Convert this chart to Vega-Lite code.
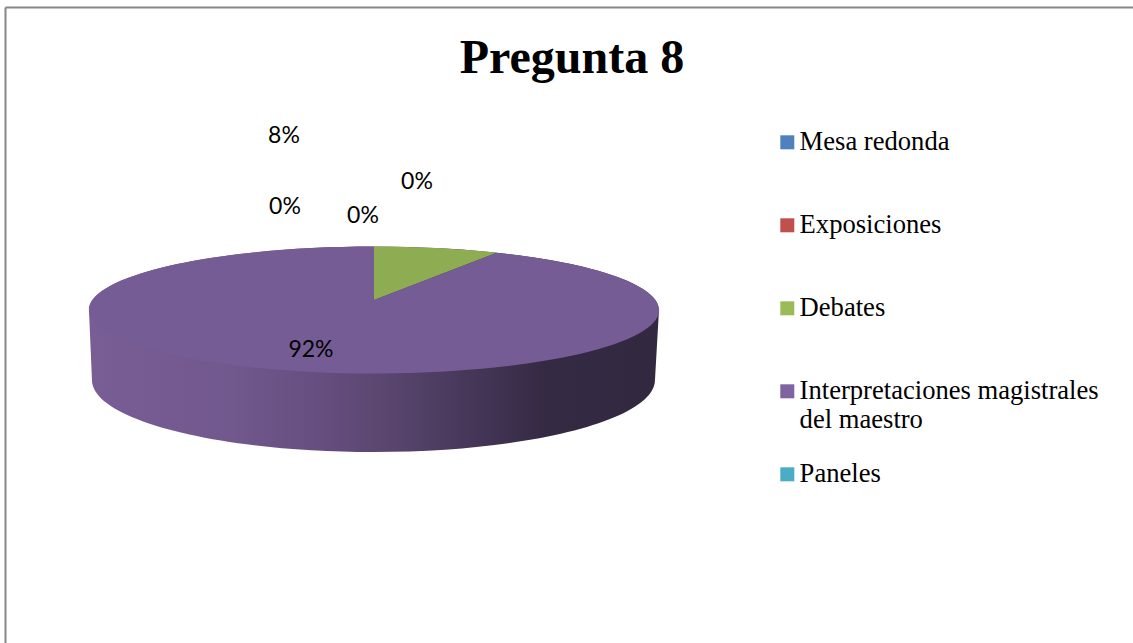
{
"$schema":"https://vega.github.io/schema/vega-lite/v6.json",
"width":1128,"height":636,
"autosize":"none",
"padding":{"left":5,"top":7,"right":0,"bottom":0},
"background":"white",
"config":{"view":{"stroke":null}},
"title":{"text":"Pregunta 8","font":"Liberation Serif","fontSize":48,"fontWeight":"bold","color":"black","anchor":"middle","offset":-76,"dx":3},
"data":{"values":[
{"serie":"Mesa redonda","porcion":"Mesa redonda","share":0},
{"serie":"Exposiciones","porcion":"Exposiciones","share":0},
{"serie":"Debates","porcion":"Debates","share":0.08},
{"serie":"Interpretaciones magistrales del maestro","porcion":"Interpretaciones","share":0.92},
{"serie":"Paneles","porcion":"Paneles","share":0}
]},
"encoding":{
"x":{"datum":0.3271,"type":"quantitative","scale":{"domain":[0,1]},"axis":{"orient":"top","domainColor":"#868686","domainWidth":2,"ticks":false,"labels":false,"grid":false,"title":null}},
"y":{"datum":0.4607,"type":"quantitative","scale":{"domain":[0,1],"reverse":true},"axis":{"orient":"left","domainColor":"#868686","domainWidth":2,"ticks":false,"labels":false,"grid":false,"title":null}}
},
"layer":[
{"transform":[{"filter":"datum.share>0.5"}],
 "mark":{"type":"point","filled":true,"size":4,"opacity":1,"shape":"M-285,10 L-282,80 A281.5 72 0 0 0 281,80 L285,10 A285 63.5 0 0 0 -285,10 Z",
 "color":{"gradient":"linear","x1":0,"y1":0,"x2":1,"y2":0,"stops":[{"offset":0,"color":"#795d95"},{"offset":0.25,"color":"#71588d"},{"offset":0.42,"color":"#654d7e"},{"offset":0.52,"color":"#5a466f"},{"offset":0.66,"color":"#47385a"},{"offset":0.8,"color":"#352a44"},{"offset":1,"color":"#32283f"}]}}},
{"mark":{"type":"point","filled":true,"size":4,"opacity":1},
 "encoding":{
  "color":{"field":"serie","type":"nominal","sort":null,"scale":{"domain":["Mesa redonda","Exposiciones","Debates","Interpretaciones magistrales del maestro","Paneles"],"range":["#4f81bd","#c0504d","#9bbb59","#8064a2","#4bacc6"]},
   "legend":{"title":null,"orient":"none","legendX":769,"legendY":122,"columns":1,"gridAlign":"all","symbolType":"square","symbolSize":196,"symbolStrokeWidth":0,"labelFont":"Liberation Serif","labelFontSize":26.6,"labelColor":"black","labelLimit":400,"labelOffset":-1,"rowPadding":27,
    "labelExpr":"datum.label=='Interpretaciones magistrales del maestro' ? ['Interpretaciones magistrales','del maestro'] : datum.label"}},
  "shape":{"field":"porcion","type":"nominal","sort":null,"legend":null,"scale":{"domain":["Mesa redonda","Exposiciones","Debates","Interpretaciones","Paneles"],"range":["M0,0","M0,0","M0,0 L0,-53.5 A285 63.5 0 0 1 123,-47.3 Z","M0,0 L123,-47.3 A285 63.5 0 1 1 0,-53.5 Z","M0,0"]}}
 }},
{"transform":[{"filter":"datum.share>0"}],
 "mark":{"type":"point","filled":true,"size":4,"color":"black","opacity":0.08},
 "encoding":{"shape":{"field":"porcion","type":"nominal","legend":null,"scale":{"domain":["Mesa redonda","Exposiciones","Debates","Interpretaciones","Paneles"],"range":["M0,0","M0,0","M0,0 L0,-53.5 A285 63.5 0 0 1 123,-47.3 Z","M0,0 L123,-47.3 A285 63.5 0 1 1 0,-53.5 Z","M0,0"]}}}},
{"transform":[{"filter":"datum.serie=='Debates'"}],"mark":{"type":"text","font":"Lato","fontSize":23,"color":"black","dx":-90,"dy":-164},"encoding":{"text":{"field":"share","format":".0%"}}},
{"transform":[{"filter":"datum.serie=='Exposiciones'"}],"mark":{"type":"text","font":"Lato","fontSize":23,"color":"black","dx":43,"dy":-118},"encoding":{"text":{"field":"share","format":".0%"}}},
{"transform":[{"filter":"datum.serie=='Mesa redonda'"}],"mark":{"type":"text","font":"Lato","fontSize":23,"color":"black","dx":-11,"dy":-84},"encoding":{"text":{"field":"share","format":".0%"}}},
{"transform":[{"filter":"datum.serie=='Paneles'"}],"mark":{"type":"text","font":"Lato","fontSize":23,"color":"black","dx":-89,"dy":-93},"encoding":{"text":{"field":"share","format":".0%"}}},
{"transform":[{"filter":"datum.share>0.5"}],"mark":{"type":"text","font":"Lato","fontSize":23,"color":"black","dx":-63,"dy":50},"encoding":{"text":{"field":"share","format":".0%"}}}
]
}
